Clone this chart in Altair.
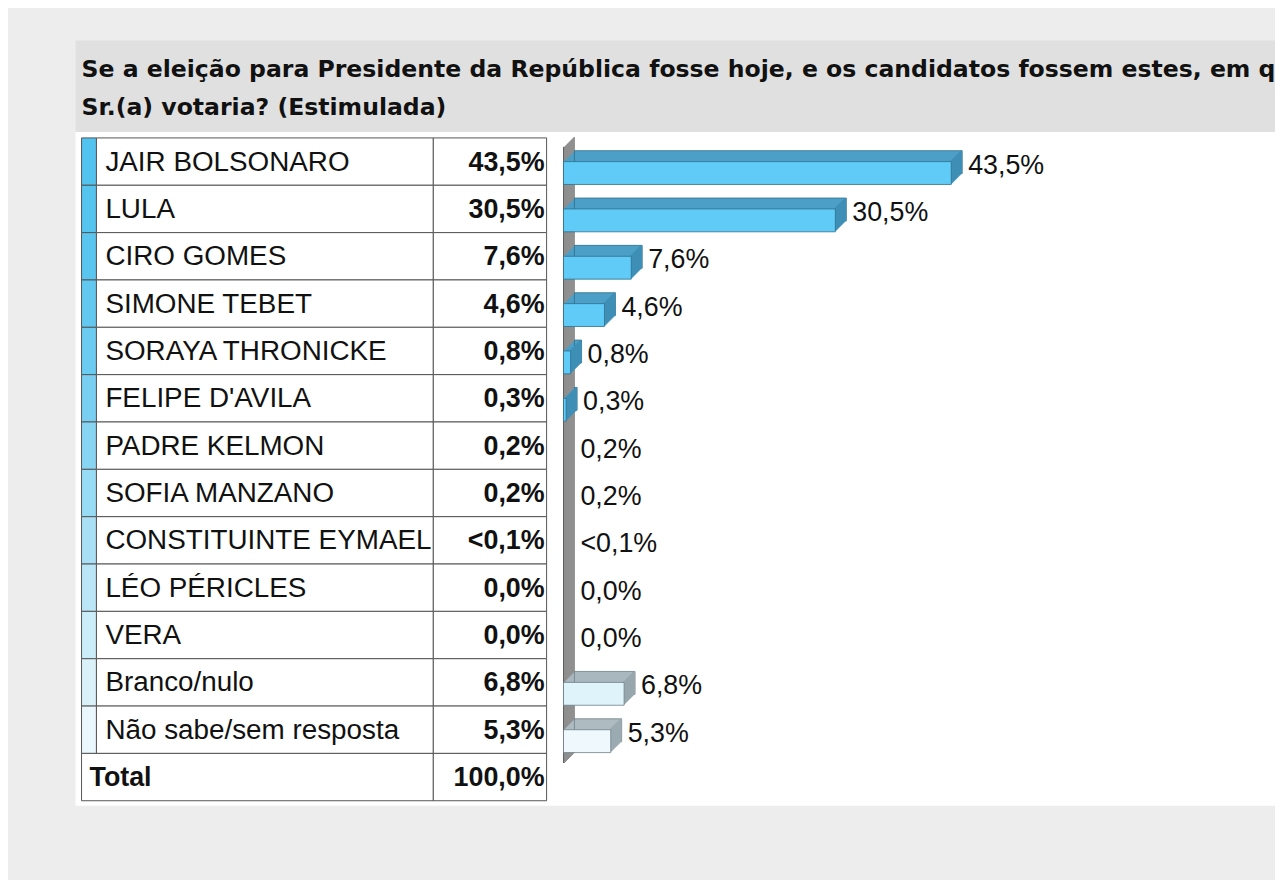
import altair as alt
import pandas as pd

# ---------------- data ----------------
title_lines = [
    "Se a eleição para Presidente da República fosse hoje, e os candidatos fossem estes, em quem o(a)",
    "Sr.(a) votaria? (Estimulada)",
]
names = [
    "JAIR BOLSONARO", "LULA", "CIRO GOMES", "SIMONE TEBET", "SORAYA THRONICKE",
    "FELIPE D'AVILA", "PADRE KELMON", "SOFIA MANZANO", "CONSTITUINTE EYMAEL",
    "LÉO PÉRICLES", "VERA", "Branco/nulo", "Não sabe/sem resposta",
]
share_labels = [
    "43,5%", "30,5%", "7,6%", "4,6%", "0,8%", "0,3%", "0,2%", "0,2%",
    "<0,1%", "0,0%", "0,0%", "6,8%", "5,3%",
]
# bar lengths as drawn in the picture (the tiniest shares show no bar)
bar_lengths = [43.5, 30.5, 7.6, 4.6, 0.8, 0.3, 0.0, 0.0, 0.0, 0.0, 0.0, 6.8, 5.3]
groups = ["cand"] * 11 + ["branco", "ns"]
total_name = "Total"
total_label = "100,0%"

# ---------------- styles ----------------
strip_colors = [
    "#52c2ee", "#55c4ef", "#5ac6ef", "#62c8f0", "#6ccbf1", "#78cff2", "#88d5f3",
    "#98dbf4", "#a9e0f6", "#bae6f7", "#cbecf9", "#dbf1fa", "#eaf7fc",
]
front_colors = {"cand": "#5fcbf6", "branco": "#dff3fb", "ns": "#eef8fd"}
top_colors = {"cand": "#4c9fc6", "branco": "#a9b8be", "ns": "#aebbc1"}
side_colors = {"cand": "#3f8fb6", "branco": "#97a7ad", "ns": "#9babb1"}
edge_colors = {"cand": "#2f6f8e", "branco": "#6f7f86", "ns": "#6f7f86"}
grp_dom = list(front_colors.keys())

FONT = "Liberation Sans, Arial, sans-serif"
TFONT = "DejaVu Sans, Verdana, sans-serif"
FS = 27

rows = names + [total_name]
table = pd.DataFrame({
    "row": rows,
    "label": share_labels + [total_label],
    "strip": strip_colors + ["#ffffff"],
    "kind": ["item"] * len(names) + ["total"],
})
bars = pd.DataFrame({
    "row": names,
    "bar": bar_lengths,
    "label": share_labels,
    "grp": groups,
})
one = pd.DataFrame({"a": [1]})

yscale = alt.Scale(domain=rows, range=[128, 795], paddingInner=0, paddingOuter=0)
xscale = alt.Scale(domain=[0, 50], range=[559, 1007.5])
Y = alt.Y("row:N", scale=yscale, axis=None, sort=None)
X = alt.X("bar:Q", scale=xscale, axis=None)

layers = []

# title bar and white panel
layers.append(alt.Chart(one).mark_rect(color="#e0e0e0").encode(
    x=alt.value(68), x2=alt.value(1275), y=alt.value(30), y2=alt.value(122)))
layers.append(alt.Chart(one).mark_rect(color="#ffffff").encode(
    x=alt.value(68), x2=alt.value(1275), y=alt.value(122), y2=alt.value(800)))
for i, line in enumerate(title_lines):
    layers.append(alt.Chart(one).mark_text(
        text=line, font=TFONT, fontSize=23.7, fontWeight="bold", color="#111111",
        align="left", baseline="alphabetic").encode(
        x=alt.value(74), y=alt.value(67 + 38 * i)))

# table cells
items = alt.Chart(table).transform_filter("datum.kind == 'item'")
tot = alt.Chart(table).transform_filter("datum.kind == 'total'")
cell = dict(stroke="#555555", strokeWidth=1)
layers.append(items.mark_rect(**cell).encode(
    x=alt.value(74), x2=alt.value(89), y=Y, fill=alt.Fill("strip:N", scale=None)))
layers.append(items.mark_rect(fill="#ffffff", **cell).encode(
    x=alt.value(89), x2=alt.value(428), y=Y))
layers.append(tot.mark_rect(fill="#ffffff", **cell).encode(
    x=alt.value(74), x2=alt.value(428), y=Y))
layers.append(alt.Chart(table).mark_rect(fill="#ffffff", **cell).encode(
    x=alt.value(428), x2=alt.value(542), y=Y))

# table texts
layers.append(items.mark_text(font=FONT, fontSize=28, color="#111111", align="left",
                              baseline="alphabetic", yOffset=9).encode(
    x=alt.value(98), y=Y, text="row:N"))
layers.append(tot.mark_text(font=FONT, fontSize=FS, fontWeight="bold", color="#111111",
                            align="left", baseline="alphabetic", yOffset=9).encode(
    x=alt.value(82), y=Y, text="row:N"))
layers.append(alt.Chart(table).mark_text(font=FONT, fontSize=FS, fontWeight="bold",
                                         color="#111111", align="right",
                                         baseline="alphabetic", yOffset=9).encode(
    x=alt.value(540), y=Y, text="label:N"))

# 3D wall behind the bars
for k in range(11):
    layers.append(alt.Chart(one).mark_rect(color="#8d8d8d", xOffset=k, x2Offset=k + 1.5).encode(
        x=alt.X(datum=0, type="quantitative", scale=xscale, axis=None),
        x2=alt.X2(datum=0),
        y=alt.value(137 - k), y2=alt.value(757 - k)))
layers.append(alt.Chart(one).mark_rule(color="#5e5e5e", strokeWidth=1).encode(
    x=alt.X(datum=0, type="quantitative", scale=xscale, axis=None),
    y=alt.value(137), y2=alt.value(757)))


def cscale(d):
    return alt.Scale(domain=grp_dom, range=[d[g] for g in grp_dom])


# 3D bars
bchart = alt.Chart(bars).transform_filter("datum.bar > 0")
for k in range(1, 12):
    extra = dict(strokeWidth=0.8) if k == 11 else {}
    enc = dict(x=X, y=Y, color=alt.Color("grp:N", scale=cscale(top_colors), legend=None))
    if k == 11:
        enc["stroke"] = alt.Stroke("grp:N", scale=cscale(edge_colors), legend=None)
    layers.append(bchart.mark_bar(size=23, yOffset=11.5 - k, xOffset=k, x2Offset=k, **extra).encode(**enc))
for k in range(1, 12):
    layers.append(bchart.mark_bar(size=23, yOffset=11.5 - k, xOffset=k, x2Offset=k - 2).encode(
        x=X, x2="bar:Q", y=Y, color=alt.Color("grp:N", scale=cscale(side_colors), legend=None)))
layers.append(bchart.mark_bar(size=23, yOffset=11.5, strokeWidth=0.8).encode(
    x=X, y=Y, color=alt.Color("grp:N", scale=cscale(front_colors), legend=None),
    stroke=alt.Stroke("grp:N", scale=cscale(edge_colors), legend=None)))

# value labels next to bars
layers.append(alt.Chart(bars).mark_text(font=FONT, fontSize=FS, color="#111111", align="left",
                                        baseline="alphabetic", dx=17, yOffset=12).encode(
    x=X, y=Y, text="label:N"))

chart = alt.layer(*layers).resolve_scale(color="independent", stroke="independent").properties(
    width=1275, height=872, padding=0, autosize="none", background="#ededed"
).configure_view(stroke=None)

chart.save("out.html", embed_options={"renderer": "svg", "actions": False})
